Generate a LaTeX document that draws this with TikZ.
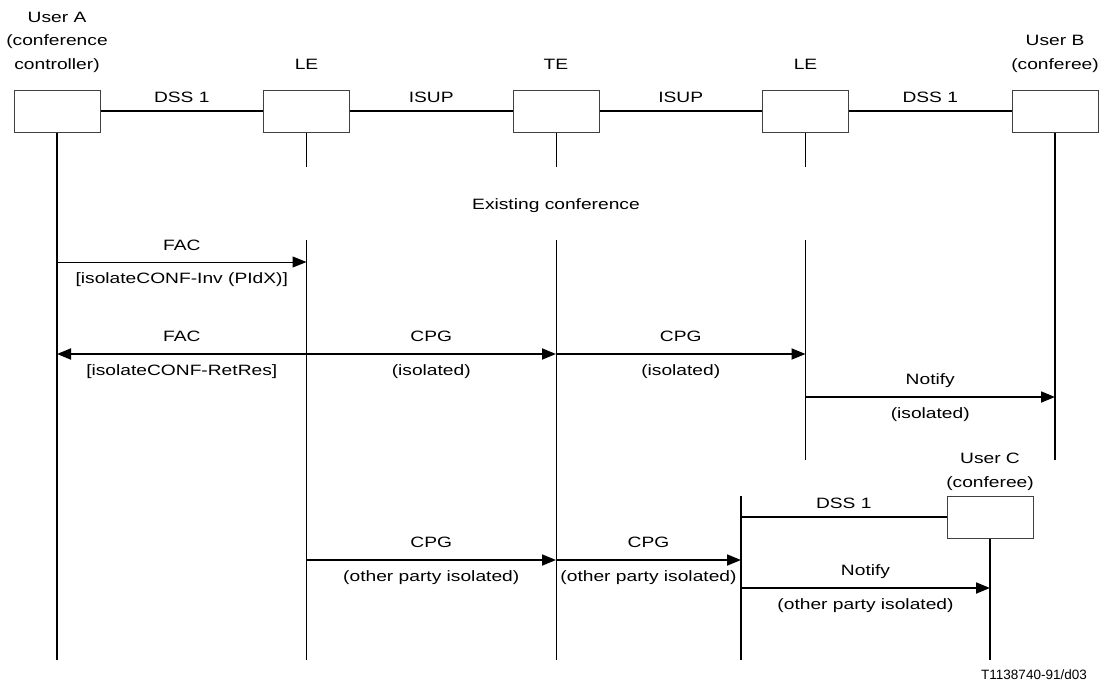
\documentclass[tikz,border=0pt]{standalone}
\usepackage{fontspec}
\setmainfont{Liberation Sans}[FakeStretch=1.28]
\newfontfamily\tagfont{Liberation Sans}
\usetikzlibrary{arrows.meta,positioning}

\begin{document}
\begin{tikzpicture}[x=1pt,y=-1pt,
    box/.style={draw=black!75,line width=1pt,minimum width=86pt,minimum height=42pt,inner sep=0pt},
    lbl/.style={align=center,inner sep=0pt,font=\fontsize{15}{23.5}\selectfont},
    msg/.style={inner sep=0pt,text height=11pt,text depth=3pt,font=\fontsize{15}{18}\selectfont},
    link/.style={line width=1.8pt},
    life/.style={line width=1.8pt},
    thinlife/.style={line width=1pt},
    sig/.style={line width=1.8pt,-{Triangle[length=14pt,width=11pt]}}]
  \useasboundingbox (0,0) rectangle (1102,688);
  \node[box] (ua) at (57,111) {};
  \node[box,right=162.5pt of ua] (le1) {};
  \node[box,right=162.5pt of le1] (te) {};
  \node[box,right=162.5pt of te] (le2) {};
  \node[box,right=162.5pt of le2] (ub) {};
  \node[box] (uc) at (990,517) {};
  \coordinate (le3) at (741,496);
  \coordinate (gap) at (0,240);
  \coordinate (half) at (0,460);
  \coordinate (bot) at (0,660);
  \node[lbl,above=17pt of ua] (uatxt) {User A\\(conference\\controller)};
  \node[lbl,above=20pt of le1] (le1txt) {LE};
  \node[lbl,above=20pt of te] (tetxt) {TE};
  \node[lbl,above=20pt of le2] (le2txt) {LE};
  \node[lbl,above=17pt of ub] (ubtxt) {User B\\(conferee)};
  \node[lbl,above=5pt of uc] (uctxt) {User C\\(conferee)};
  \draw[link] (ua) -- node[msg,above=4.5pt] (l1) {DSS 1} (le1);
  \draw[link] (le1) -- node[msg,above=4.5pt] (l2) {ISUP} (te);
  \draw[link] (te) -- node[msg,above=4.5pt] (l3) {ISUP} (le2);
  \draw[link] (le2) -- node[msg,above=4.5pt] (l4) {DSS 1} (ub);
  \draw[link] (le3 |- uc.west) -- node[msg,above=4.5pt] (l5) {DSS 1} (uc.west);
  \draw[life] (ua) -- (ua |- bot);
  \draw[life] (ub) -- (ub |- half);
  \draw[thinlife] (le1) -- ++(0,56);
  \draw[thinlife] (te) -- ++(0,56);
  \draw[thinlife] (le2) -- ++(0,56);
  \draw[thinlife] (le1 |- gap) -- (le1 |- bot);
  \draw[thinlife] (te |- gap) -- (te |- bot);
  \draw[life] (le2 |- gap) -- (le2 |- half);
  \draw[life] (le3) -- (le3 |- bot);
  \draw[life] (uc) -- (uc |- bot);
  \node[msg] (exist) at (te |- 0,205) {Existing conference};
  \draw[sig,line width=1pt] (ua |- 0,262) -- node[msg,above=8.5pt] (m1) {FAC}
    node[msg,below=10pt] (m1b) {[isolateCONF-Inv (PIdX)]} (le1 |- 0,262);
  \draw[sig] (le1 |- 0,354) -- node[msg,above=8.5pt] (m2) {FAC}
    node[msg,below=10pt] (m2b) {[isolateCONF-RetRes]} (ua |- 0,354);
  \draw[sig] (le1 |- 0,354) -- node[msg,above=8.5pt] (m3) {CPG}
    node[msg,below=10pt] (m3b) {(isolated)} (te |- 0,354);
  \draw[sig] (te |- 0,354) -- node[msg,above=8.5pt] (m4) {CPG}
    node[msg,below=10pt] (m4b) {(isolated)} (le2 |- 0,354);
  \draw[sig] (le2 |- 0,397) -- node[msg,above=8.5pt] (m5) {Notify}
    node[msg,below=10pt] (m5b) {(isolated)} (ub |- 0,397);
  \draw[sig] (le1 |- 0,560) -- node[msg,above=8.5pt] (m6) {CPG}
    node[msg,below=10pt] (m6b) {(other party isolated)} (te |- 0,560);
  \draw[sig] (te |- 0,560) -- node[msg,above=8.5pt] (m7) {CPG}
    node[msg,below=10pt] (m7b) {(other party isolated)} (le3 |- 0,560);
  \draw[sig] (le3 |- 0,588) -- node[msg,above=8.5pt] (m8) {Notify}
    node[msg,below=10pt] (m8b) {(other party isolated)} (uc |- 0,588);
  \node[font=\tagfont\fontsize{13.5}{16}\selectfont,inner sep=0pt] (tag) at (1034,675) {T1138740-91/d03};
\end{tikzpicture}
\end{document}
